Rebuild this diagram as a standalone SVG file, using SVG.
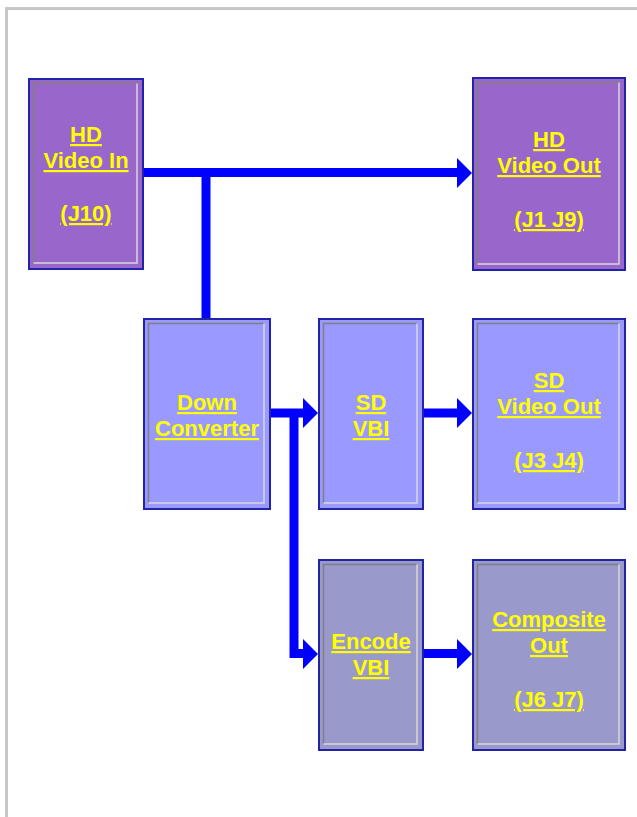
<svg xmlns="http://www.w3.org/2000/svg" width="637" height="817" viewBox="0 0 637 817">
<style>
.box{stroke:#2323a8;stroke-width:2}
.hd{fill:#9966cc}
.sd{fill:#9999ff}
.enc{fill:#9999cc}
.sh{fill:none;stroke:#808080;stroke-width:1.5}
.hl{fill:none;stroke:#d8d8d8;stroke-width:1.5}
.t{font-family:"Liberation Sans",Arial,sans-serif;font-weight:bold;font-size:22px;fill:#ffff00;text-decoration:underline;text-anchor:middle}
.wire{fill:none;stroke:#0000ff;stroke-width:9}
.head{fill:#0000ff}
</style>
<rect width="637" height="817" fill="#ffffff"/>
<path d="M6.5 817 V8.5 H637" fill="none" stroke="#c8c8c8" stroke-width="3"/>

<g id="connectors">
  <path class="wire" d="M143 172.5 H458"/>
  <path class="wire" d="M206 172.5 V318"/>
  <path class="wire" d="M270 413 H304"/>
  <path class="wire" d="M294 413 V653.5 H304"/>
  <path class="wire" d="M423 413 H458"/>
  <path class="wire" d="M423 653.5 H458"/>
  <polygon class="head" points="457,158 472,173 457,188"/>
  <polygon class="head" points="303,398 318,413 303,428"/>
  <polygon class="head" points="303,639 318,654 303,669"/>
  <polygon class="head" points="457,398 472,413 457,428"/>
  <polygon class="head" points="457,639 472,654 457,669"/>
</g>

<g id="hd-video-in">
  <rect class="box hd" x="29" y="79" width="114" height="190"/>
  <polyline class="sh" points="33.5,263 33.5,83.5 137,83.5"/>
  <polyline class="hl" points="137,83.5 137,263 33.5,263"/>
  <text class="t" x="86" y="142">HD</text>
  <text class="t" x="86" y="168">Video In</text>
  <text class="t" x="86" y="221">(J10)</text>
</g>

<g id="hd-video-out">
  <rect class="box hd" x="473" y="78" width="152" height="192"/>
  <polyline class="sh" points="477.5,264 477.5,82.5 619,82.5"/>
  <polyline class="hl" points="619,82.5 619,264 477.5,264"/>
  <text class="t" x="549" y="147">HD</text>
  <text class="t" x="549" y="173">Video Out</text>
  <text class="t" x="549" y="227">(J1 J9)</text>
</g>

<g id="down-converter">
  <rect class="box sd" x="144" y="319" width="126" height="190"/>
  <polyline class="sh" points="148.5,503 148.5,323.5 264,323.5"/>
  <polyline class="hl" points="264,323.5 264,503 148.5,503"/>
  <text class="t" x="207" y="410">Down</text>
  <text class="t" x="207" y="436">Converter</text>
</g>

<g id="sd-vbi">
  <rect class="box sd" x="319" y="319" width="104" height="190"/>
  <polyline class="sh" points="323.5,503 323.5,323.5 417,323.5"/>
  <polyline class="hl" points="417,323.5 417,503 323.5,503"/>
  <text class="t" x="371" y="410">SD</text>
  <text class="t" x="371" y="436">VBI</text>
</g>

<g id="sd-video-out">
  <rect class="box sd" x="473" y="319" width="152" height="190"/>
  <polyline class="sh" points="477.5,503 477.5,323.5 619,323.5"/>
  <polyline class="hl" points="619,323.5 619,503 477.5,503"/>
  <text class="t" x="549" y="388">SD</text>
  <text class="t" x="549" y="414">Video Out</text>
  <text class="t" x="549" y="468">(J3 J4)</text>
</g>

<g id="encode-vbi">
  <rect class="box enc" x="319" y="560" width="104" height="190"/>
  <polyline class="sh" points="323.5,744 323.5,564.5 417,564.5"/>
  <polyline class="hl" points="417,564.5 417,744 323.5,744"/>
  <text class="t" x="371" y="649">Encode</text>
  <text class="t" x="371" y="675">VBI</text>
</g>

<g id="composite-out">
  <rect class="box enc" x="473" y="560" width="152" height="190"/>
  <polyline class="sh" points="477.5,744 477.5,564.5 619,564.5"/>
  <polyline class="hl" points="619,564.5 619,744 477.5,744"/>
  <text class="t" x="549" y="627">Composite</text>
  <text class="t" x="549" y="653">Out</text>
  <text class="t" x="549" y="707">(J6 J7)</text>
</g>
</svg>
